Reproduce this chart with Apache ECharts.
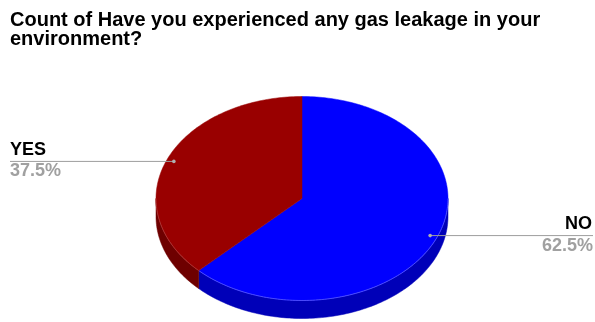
<!DOCTYPE html>
<html>
<head>
<meta charset="utf-8">
<script src="https://cdn.jsdelivr.net/npm/echarts@6/dist/echarts.min.js"></script>
<style>
  html, body { margin: 0; padding: 0; background: #fff; }
  #chart { width: 595px; height: 322px; }
</style>
</head>
<body>
<div id="chart"></div>
<script>
// Answers and their counts (shares of 100)
var categories = ['NO', 'YES'];
var values = [62.5, 37.5];
var topColors = ['#0000ff', '#990000'];
var sideColors = ['#0000b8', '#6e0000'];
var rimColors = ['#5a5aff', '#b03a3a'];

var chart = echarts.init(document.getElementById('chart'), null, { renderer: 'canvas' });

var total = values.reduce(function (a, b) { return a + b; }, 0);

// Ellipse geometry of the tilted pie
var CX = 302, CY = 198.5, RX = 146, RY = 102, DEPTH = 18;
var FONT = '"Liberation Sans", Arial, sans-serif';

function pt(theta, dy) {
  // theta: radians clockwise from 12 o'clock
  return [CX + RX * Math.sin(theta), CY - RY * Math.cos(theta) + (dy || 0)];
}

function arcPoints(a1, a2, dy) {
  var pts = [];
  var n = Math.max(2, Math.ceil(Math.abs(a2 - a1) / 0.02));
  for (var i = 0; i <= n; i++) {
    pts.push(pt(a1 + (a2 - a1) * i / n, dy));
  }
  return pts;
}

function sliceAngles(idx) {
  var before = 0;
  for (var i = 0; i < idx; i++) before += values[i];
  return [before / total * Math.PI * 2, (before + values[idx]) / total * Math.PI * 2];
}

function renderItem(params, api) {
  var idx = params.dataIndex;
  var ang = sliceAngles(idx);
  var a1 = ang[0], a2 = ang[1];
  var children = [];

  // outer wall: only the front half (between 90° and 270°) is visible
  var f1 = Math.max(a1, Math.PI / 2), f2 = Math.min(a2, Math.PI * 1.5);
  if (f2 > f1) {
    var top = arcPoints(f1, f2, 0);
    var bot = arcPoints(f2, f1, DEPTH);
    children.push({
      type: 'polygon',
      shape: { points: top.concat(bot) },
      style: { fill: sideColors[idx], stroke: sideColors[idx], lineWidth: 0.5 }
    });
  }

  // top face
  var face = [[CX, CY]].concat(arcPoints(a1, a2, 0));
  children.push({
    type: 'polygon',
    shape: { points: face },
    style: { fill: topColors[idx], stroke: topColors[idx], lineWidth: 0.5 }
  });

  // faint rim along the front edge of the top face
  if (f2 > f1) {
    children.push({
      type: 'polyline',
      shape: { points: arcPoints(f1, f2, 0) },
      style: { stroke: rimColors[idx], lineWidth: 0.8, fill: null }
    });
  }
  return { type: 'group', children: children };
}

function renderLabel(params, api) {
  var idx = params.dataIndex;
  var ang = sliceAngles(idx);
  var mid = (ang[0] + ang[1]) / 2;
  var anchor = [CX + RX * 0.95 * Math.sin(mid), CY - RY * 0.95 * Math.cos(mid)];
  var right = Math.sin(mid) > 0;
  var endX = right ? 593 : 10;
  var pct = (values[idx] / total * 100).toFixed(1) + '%';
  return {
    type: 'group',
    children: [
      { type: 'line', shape: { x1: anchor[0], y1: anchor[1], x2: endX, y2: anchor[1] },
        style: { stroke: '#9e9e9e', lineWidth: 1 } },
      { type: 'circle', shape: { cx: anchor[0], cy: anchor[1], r: 1.8 },
        style: { fill: '#b0b0b0' } },
      { type: 'text', x: right ? endX - 1 : endX, y: anchor[1] - 11.5,
        style: { text: categories[idx], fill: '#000', font: 'bold 18px ' + FONT,
                 align: right ? 'right' : 'left', verticalAlign: 'middle' } },
      { type: 'text', x: endX, y: anchor[1] + 10,
        style: { text: pct, fill: '#a0a0a0', font: 'bold 18px ' + FONT,
                 align: right ? 'right' : 'left', verticalAlign: 'middle' } }
    ]
  };
}

var seriesData = categories.map(function (c, i) { return { name: c, value: values[i] }; });

chart.setOption({
  animation: false,
  title: {
    text: 'Count of Have you experienced any gas leakage in your\nenvironment?',
    left: 10, top: 11, padding: 0,
    textStyle: { fontFamily: FONT, fontWeight: 'bold',
                 fontSize: 20, lineHeight: 19, color: '#000' }
  },
  series: [
    { type: 'custom', coordinateSystem: 'none', renderItem: renderItem, data: seriesData, silent: true },
    { type: 'custom', coordinateSystem: 'none', renderItem: renderLabel, data: seriesData, silent: true }
  ]
});
</script>
</body>
</html>
